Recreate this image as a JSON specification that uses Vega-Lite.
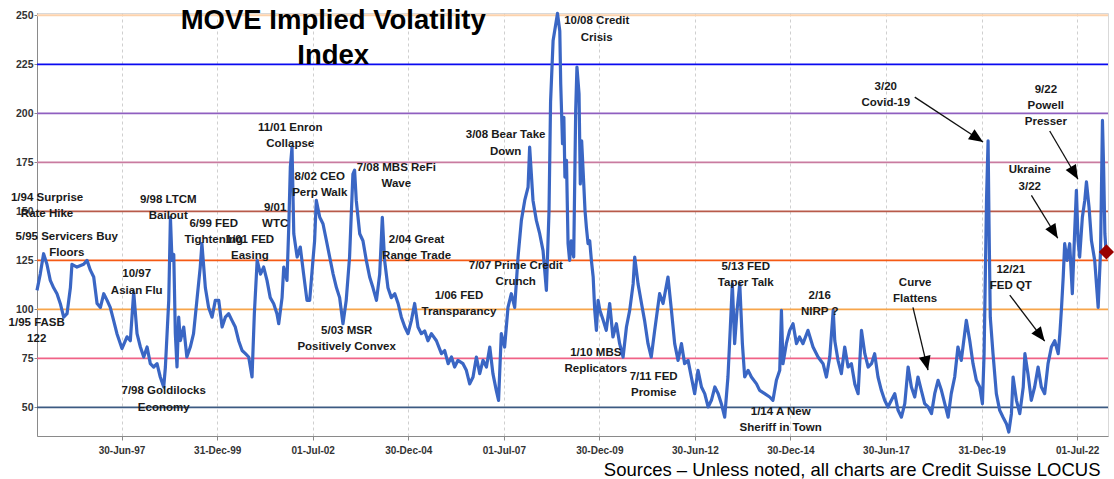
{
  "$schema": "https://vega.github.io/schema/vega-lite/v6.json",
  "width": 1071,
  "height": 423,
  "autosize": {"type": "none"},
  "padding": {"left": 37, "top": 13, "right": 6, "bottom": 43},
  "background": "white",
  "config": {
    "view": {"stroke": "#d9d9d9", "strokeWidth": 1},
    "font": "Liberation Sans",
    "axisX": {"labelFont": "Liberation Sans", "labelFontSize": 10, "labelFontWeight": "bold", "labelColor": "#333333", "domainColor": "#8a8a8a", "tickColor": "#8a8a8a", "tickSize": 4, "labelPadding": 5, "grid": true, "gridColor": "#cfcfcf", "gridDash": [3, 3], "gridWidth": 1},
    "axisY": {"labelFont": "Liberation Sans", "labelFontSize": 10.5, "labelFontWeight": "bold", "labelColor": "#333333", "domainColor": "#8a8a8a", "tickColor": "#8a8a8a", "tickSize": 3, "labelPadding": 1, "grid": false}
  },
  "datasets": {
    "hlines": [{"v": 50}, {"v": 75}, {"v": 100}, {"v": 125}, {"v": 150}, {"v": 175}, {"v": 200}, {"v": 225}, {"v": 250}],
    "move": [
      {"d": "1995-04-14", "v": 109.7}, {"d": "1995-05-15", "v": 118}, {"d": "1995-06-16", "v": 128.4}, {"d": "1995-07-18", "v": 123}, {"d": "1995-08-19", "v": 114.8}, {"d": "1995-09-20", "v": 111}, {"d": "1995-10-22", "v": 108}, {"d": "1995-11-23", "v": 102.9}, {"d": "1995-12-25", "v": 96},
      {"d": "1996-01-26", "v": 97.8}, {"d": "1996-02-27", "v": 111}, {"d": "1996-03-13", "v": 123}, {"d": "1996-04-30", "v": 121.6}, {"d": "1996-07-03", "v": 123}, {"d": "1996-08-04", "v": 125}, {"d": "1996-09-05", "v": 120}, {"d": "1996-10-07", "v": 116.5}, {"d": "1996-11-08", "v": 103}, {"d": "1996-12-10", "v": 101},
      {"d": "1997-01-11", "v": 108}, {"d": "1997-02-12", "v": 104.6}, {"d": "1997-03-14", "v": 101}, {"d": "1997-04-15", "v": 94.4}, {"d": "1997-05-17", "v": 87.6}, {"d": "1997-07-04", "v": 80}, {"d": "1997-08-21", "v": 86}, {"d": "1997-09-22", "v": 84}, {"d": "1997-10-24", "v": 108.8}, {"d": "1997-11-25", "v": 87.6}, {"d": "1997-12-27", "v": 80.8},
      {"d": "1998-01-28", "v": 75.7}, {"d": "1998-03-01", "v": 80.8}, {"d": "1998-04-01", "v": 72.3}, {"d": "1998-05-03", "v": 70.6}, {"d": "1998-06-04", "v": 72.3}, {"d": "1998-07-05", "v": 65.5}, {"d": "1998-08-07", "v": 60.4}, {"d": "1998-08-23", "v": 70.6}, {"d": "1998-09-24", "v": 104.6}, {"d": "1998-10-10", "v": 147}, {"d": "1998-10-25", "v": 125}, {"d": "1998-11-11", "v": 128}, {"d": "1998-11-26", "v": 87.6}, {"d": "1998-12-12", "v": 70.6}, {"d": "1998-12-28", "v": 96},
      {"d": "1999-01-13", "v": 84}, {"d": "1999-02-14", "v": 91}, {"d": "1999-03-16", "v": 75.7}, {"d": "1999-04-18", "v": 80.8}, {"d": "1999-05-19", "v": 87.6}, {"d": "1999-06-20", "v": 104.6}, {"d": "1999-07-22", "v": 121.6}, {"d": "1999-08-07", "v": 133.5}, {"d": "1999-09-09", "v": 111}, {"d": "1999-10-10", "v": 101}, {"d": "1999-11-12", "v": 96}, {"d": "1999-12-13", "v": 104.6},
      {"d": "2000-01-15", "v": 104.6}, {"d": "2000-02-16", "v": 91}, {"d": "2000-03-18", "v": 96}, {"d": "2000-04-19", "v": 97.8}, {"d": "2000-05-20", "v": 94.4}, {"d": "2000-06-21", "v": 91}, {"d": "2000-07-23", "v": 84}, {"d": "2000-08-25", "v": 79}, {"d": "2000-09-26", "v": 77.4}, {"d": "2000-10-27", "v": 75.7}, {"d": "2000-11-28", "v": 65.5}, {"d": "2000-12-20", "v": 97.8},
      {"d": "2001-01-16", "v": 125}, {"d": "2001-02-17", "v": 118}, {"d": "2001-03-19", "v": 121.6}, {"d": "2001-04-20", "v": 114.8}, {"d": "2001-05-21", "v": 106}, {"d": "2001-06-23", "v": 102.9}, {"d": "2001-07-24", "v": 97.8}, {"d": "2001-08-10", "v": 92.7}, {"d": "2001-09-11", "v": 106}, {"d": "2001-09-27", "v": 121.6}, {"d": "2001-10-28", "v": 114.8}, {"d": "2001-11-14", "v": 142}, {"d": "2001-11-29", "v": 172.6}, {"d": "2001-12-15", "v": 182.8},
      {"d": "2002-01-01", "v": 138.6}, {"d": "2002-02-02", "v": 126.7}, {"d": "2002-03-04", "v": 131.8}, {"d": "2002-04-05", "v": 118}, {"d": "2002-05-07", "v": 104.6}, {"d": "2002-06-02", "v": 104.6}, {"d": "2002-07-03", "v": 125}, {"d": "2002-07-19", "v": 135}, {"d": "2002-08-04", "v": 155.6}, {"d": "2002-09-06", "v": 147}, {"d": "2002-10-07", "v": 143.7}, {"d": "2002-11-09", "v": 135}, {"d": "2002-12-10", "v": 126.7},
      {"d": "2003-01-12", "v": 118}, {"d": "2003-02-13", "v": 111}, {"d": "2003-03-15", "v": 106}, {"d": "2003-04-16", "v": 92.7}, {"d": "2003-05-17", "v": 104.6}, {"d": "2003-06-18", "v": 126.7}, {"d": "2003-07-20", "v": 169}, {"d": "2003-08-05", "v": 171}, {"d": "2003-08-21", "v": 155.6}, {"d": "2003-09-23", "v": 138.6}, {"d": "2003-10-24", "v": 135}, {"d": "2003-11-25", "v": 125}, {"d": "2003-12-27", "v": 116.5},
      {"d": "2004-01-28", "v": 111}, {"d": "2004-03-01", "v": 104.6}, {"d": "2004-04-01", "v": 118}, {"d": "2004-04-26", "v": 147}, {"d": "2004-05-18", "v": 125}, {"d": "2004-06-19", "v": 111}, {"d": "2004-07-21", "v": 106}, {"d": "2004-08-23", "v": 108}, {"d": "2004-09-24", "v": 103}, {"d": "2004-10-25", "v": 96}, {"d": "2004-11-27", "v": 91}, {"d": "2004-12-28", "v": 87.6},
      {"d": "2005-01-29", "v": 94.4}, {"d": "2005-03-01", "v": 103}, {"d": "2005-04-02", "v": 91}, {"d": "2005-05-04", "v": 87.6}, {"d": "2005-06-05", "v": 89}, {"d": "2005-07-06", "v": 84}, {"d": "2005-08-08", "v": 87.6}, {"d": "2005-09-25", "v": 84}, {"d": "2005-11-12", "v": 77.4}, {"d": "2005-12-13", "v": 79},
      {"d": "2006-01-15", "v": 72.3}, {"d": "2006-02-16", "v": 75.7}, {"d": "2006-03-18", "v": 70.6}, {"d": "2006-04-19", "v": 74}, {"d": "2006-06-06", "v": 72.3}, {"d": "2006-07-08", "v": 68.9}, {"d": "2006-08-09", "v": 62}, {"d": "2006-09-10", "v": 65.5}, {"d": "2006-10-12", "v": 75.7}, {"d": "2006-11-13", "v": 67.2}, {"d": "2006-12-14", "v": 74},
      {"d": "2007-01-16", "v": 70.6}, {"d": "2007-02-17", "v": 80.8}, {"d": "2007-03-19", "v": 67.2}, {"d": "2007-04-20", "v": 58.7}, {"d": "2007-05-12", "v": 53.6}, {"d": "2007-06-07", "v": 87.6}, {"d": "2007-07-09", "v": 80.8}, {"d": "2007-08-10", "v": 101}, {"d": "2007-09-11", "v": 108}, {"d": "2007-10-13", "v": 101}, {"d": "2007-11-14", "v": 126.7}, {"d": "2007-12-16", "v": 145.4},
      {"d": "2008-01-17", "v": 155.6}, {"d": "2008-02-18", "v": 162.4}, {"d": "2008-03-04", "v": 182.8}, {"d": "2008-04-05", "v": 155.6}, {"d": "2008-05-07", "v": 145.4}, {"d": "2008-06-08", "v": 138.6}, {"d": "2008-07-10", "v": 130}, {"d": "2008-08-11", "v": 109.7}, {"d": "2008-09-05", "v": 150}, {"d": "2008-09-20", "v": 206}, {"d": "2008-10-14", "v": 237}, {"d": "2008-11-25", "v": 251}, {"d": "2008-12-17", "v": 242}, {"d": "2008-12-26", "v": 215},
      {"d": "2009-01-12", "v": 184.5}, {"d": "2009-01-25", "v": 198}, {"d": "2009-02-04", "v": 167.5}, {"d": "2009-02-19", "v": 176}, {"d": "2009-03-06", "v": 133.5}, {"d": "2009-03-21", "v": 125}, {"d": "2009-04-06", "v": 135}, {"d": "2009-04-29", "v": 126.7}, {"d": "2009-05-18", "v": 201.5}, {"d": "2009-05-30", "v": 223.6}, {"d": "2009-06-19", "v": 210}, {"d": "2009-07-01", "v": 164}, {"d": "2009-07-14", "v": 186}, {"d": "2009-08-03", "v": 164}, {"d": "2009-08-15", "v": 150.5}, {"d": "2009-08-28", "v": 142}, {"d": "2009-09-13", "v": 133.5}, {"d": "2009-09-29", "v": 135}, {"d": "2009-10-15", "v": 125}, {"d": "2009-11-01", "v": 116.5}, {"d": "2009-11-16", "v": 99.5}, {"d": "2009-12-02", "v": 89.3}, {"d": "2009-12-18", "v": 104.6},
      {"d": "2010-01-04", "v": 99.5}, {"d": "2010-02-05", "v": 94.4}, {"d": "2010-03-06", "v": 89.3}, {"d": "2010-04-08", "v": 103}, {"d": "2010-05-09", "v": 85.9}, {"d": "2010-06-11", "v": 92.7}, {"d": "2010-07-12", "v": 82.5}, {"d": "2010-08-14", "v": 75.7}, {"d": "2010-09-15", "v": 91}, {"d": "2010-10-16", "v": 99.5}, {"d": "2010-11-18", "v": 113}, {"d": "2010-12-03", "v": 126.7},
      {"d": "2011-01-04", "v": 113}, {"d": "2011-02-06", "v": 103}, {"d": "2011-03-07", "v": 94.4}, {"d": "2011-04-09", "v": 82.5}, {"d": "2011-05-10", "v": 75.7}, {"d": "2011-06-12", "v": 89.3}, {"d": "2011-07-29", "v": 108}, {"d": "2011-08-31", "v": 103}, {"d": "2011-10-17", "v": 116.5}, {"d": "2011-11-19", "v": 99.5}, {"d": "2011-12-20", "v": 82.5},
      {"d": "2012-01-21", "v": 74}, {"d": "2012-02-23", "v": 82.5}, {"d": "2012-03-24", "v": 72.3}, {"d": "2012-04-26", "v": 74}, {"d": "2012-05-27", "v": 65.5}, {"d": "2012-06-28", "v": 57}, {"d": "2012-07-30", "v": 68.9}, {"d": "2012-09-01", "v": 60.4}, {"d": "2012-10-02", "v": 57}, {"d": "2012-11-04", "v": 50.2}, {"d": "2012-12-05", "v": 53.6},
      {"d": "2013-01-07", "v": 60.4}, {"d": "2013-02-08", "v": 57}, {"d": "2013-03-10", "v": 51.9}, {"d": "2013-04-11", "v": 45}, {"d": "2013-05-12", "v": 65.5}, {"d": "2013-06-04", "v": 91}, {"d": "2013-06-23", "v": 113}, {"d": "2013-07-15", "v": 82.5}, {"d": "2013-08-07", "v": 99.5}, {"d": "2013-09-02", "v": 113}, {"d": "2013-09-27", "v": 82.5}, {"d": "2013-10-19", "v": 65.5}, {"d": "2013-11-21", "v": 68.9}, {"d": "2013-12-22", "v": 65.5},
      {"d": "2014-02-09", "v": 62}, {"d": "2014-03-11", "v": 58.7}, {"d": "2014-04-28", "v": 57}, {"d": "2014-06-15", "v": 55.3}, {"d": "2014-07-16", "v": 53.6}, {"d": "2014-08-18", "v": 63.8}, {"d": "2014-09-19", "v": 68.9}, {"d": "2014-10-05", "v": 99.5}, {"d": "2014-10-20", "v": 72.3}, {"d": "2014-11-21", "v": 82.5}, {"d": "2014-12-23", "v": 89.3},
      {"d": "2015-01-24", "v": 92.7}, {"d": "2015-02-26", "v": 82.5}, {"d": "2015-03-27", "v": 85.9}, {"d": "2015-04-29", "v": 82.5}, {"d": "2015-06-16", "v": 89.3}, {"d": "2015-08-03", "v": 80.8}, {"d": "2015-09-20", "v": 75.7}, {"d": "2015-11-07", "v": 72.3}, {"d": "2015-12-09", "v": 65.5},
      {"d": "2016-01-10", "v": 75.7}, {"d": "2016-02-12", "v": 99.5}, {"d": "2016-02-27", "v": 84}, {"d": "2016-03-29", "v": 74}, {"d": "2016-04-30", "v": 67.2}, {"d": "2016-06-01", "v": 80.8}, {"d": "2016-07-03", "v": 70.6}, {"d": "2016-08-04", "v": 72.3}, {"d": "2016-09-05", "v": 62}, {"d": "2016-10-07", "v": 57}, {"d": "2016-11-08", "v": 89.3}, {"d": "2016-12-10", "v": 77.4},
      {"d": "2017-01-11", "v": 70.6}, {"d": "2017-02-12", "v": 72.3}, {"d": "2017-03-14", "v": 77.4}, {"d": "2017-04-15", "v": 65.5}, {"d": "2017-05-17", "v": 58.7}, {"d": "2017-06-18", "v": 53.6}, {"d": "2017-07-19", "v": 50.2}, {"d": "2017-08-21", "v": 53.6}, {"d": "2017-09-22", "v": 57}, {"d": "2017-10-24", "v": 48.5}, {"d": "2017-11-25", "v": 45}, {"d": "2017-12-27", "v": 51.9},
      {"d": "2018-01-28", "v": 70.6}, {"d": "2018-02-28", "v": 60.4}, {"d": "2018-04-01", "v": 55.3}, {"d": "2018-05-02", "v": 65.5}, {"d": "2018-06-03", "v": 58.7}, {"d": "2018-07-05", "v": 51.9}, {"d": "2018-08-07", "v": 50.2}, {"d": "2018-09-08", "v": 46.8}, {"d": "2018-10-09", "v": 57}, {"d": "2018-11-10", "v": 63.8}, {"d": "2018-12-12", "v": 58.7},
      {"d": "2019-01-13", "v": 51.9}, {"d": "2019-02-14", "v": 45}, {"d": "2019-03-16", "v": 57}, {"d": "2019-04-18", "v": 65.5}, {"d": "2019-05-19", "v": 80.8}, {"d": "2019-06-20", "v": 74}, {"d": "2019-07-22", "v": 87.6}, {"d": "2019-08-07", "v": 94.4}, {"d": "2019-09-09", "v": 84}, {"d": "2019-10-10", "v": 72.3}, {"d": "2019-11-11", "v": 63.8}, {"d": "2019-12-13", "v": 60.4},
      {"d": "2020-01-08", "v": 51.9}, {"d": "2020-01-24", "v": 77.4}, {"d": "2020-02-16", "v": 155.6}, {"d": "2020-03-02", "v": 186}, {"d": "2020-03-11", "v": 143.7}, {"d": "2020-03-23", "v": 96}, {"d": "2020-04-18", "v": 77.4}, {"d": "2020-05-20", "v": 57}, {"d": "2020-06-21", "v": 48.5}, {"d": "2020-07-23", "v": 45}, {"d": "2020-08-24", "v": 41.7}, {"d": "2020-09-16", "v": 37.4}, {"d": "2020-10-11", "v": 46.8}, {"d": "2020-10-27", "v": 65.5}, {"d": "2020-11-28", "v": 53.6}, {"d": "2020-12-30", "v": 46.8},
      {"d": "2021-02-01", "v": 60.4}, {"d": "2021-02-17", "v": 77.4}, {"d": "2021-03-18", "v": 67.2}, {"d": "2021-04-19", "v": 53.6}, {"d": "2021-05-21", "v": 60.4}, {"d": "2021-06-23", "v": 70.6}, {"d": "2021-07-24", "v": 60.4}, {"d": "2021-08-25", "v": 57}, {"d": "2021-09-26", "v": 72.3}, {"d": "2021-10-28", "v": 80.8}, {"d": "2021-11-29", "v": 84},
      {"d": "2022-01-01", "v": 77.4}, {"d": "2022-01-17", "v": 87.6}, {"d": "2022-02-02", "v": 101}, {"d": "2022-02-18", "v": 116.5}, {"d": "2022-03-04", "v": 133.5}, {"d": "2022-03-26", "v": 125}, {"d": "2022-04-21", "v": 133.5}, {"d": "2022-05-16", "v": 108}, {"d": "2022-06-08", "v": 140.3}, {"d": "2022-06-24", "v": 160.7}, {"d": "2022-07-10", "v": 135}, {"d": "2022-07-25", "v": 126.7}, {"d": "2022-08-20", "v": 147}, {"d": "2022-09-12", "v": 155.6}, {"d": "2022-09-28", "v": 165}, {"d": "2022-10-23", "v": 152}, {"d": "2022-11-15", "v": 135}, {"d": "2022-12-16", "v": 125},
      {"d": "2023-01-18", "v": 101}, {"d": "2023-02-10", "v": 130}, {"d": "2023-02-28", "v": 196.4}, {"d": "2023-03-11", "v": 172.6}, {"d": "2023-03-23", "v": 138.6}, {"d": "2023-04-06", "v": 128}
    ],
    "last": [{"d": "2023-04-07", "v": 129.3}],
    "arrows": [
      {"n": "covid", "d": "2018-04-01", "v": 208.3, "d2": "2020-01-14", "v2": 185.4},
      {"n": "powell", "d": "2021-10-12", "v": 191.0, "d2": "2022-07-09", "v2": 166.4},
      {"n": "ukraine", "d": "2021-04-20", "v": 158.2, "d2": "2021-12-28", "v2": 136.3},
      {"n": "qt", "d": "2020-09-25", "v": 107.3, "d2": "2021-08-25", "v2": 83.8},
      {"n": "curve", "d": "2018-03-15", "v": 101.0, "d2": "2018-08-06", "v2": 69.0}
    ],
    "notes": [
      {"d": "1995-07-19", "v": 159.8, "t": "1/94 Surprise\nRate Hike"},
      {"d": "1996-01-23", "v": 139.9, "t": "5/95 Servicers Buy\nFloors"},
      {"d": "1995-04-11", "v": 96.2, "t": "1/95 FASB\n122"},
      {"d": "1997-11-22", "v": 120.9, "t": "10/97\nAsian Flu"},
      {"d": "1998-08-07", "v": 61.2, "t": "7/98 Goldilocks\nEconomy"},
      {"d": "1998-09-19", "v": 159.1, "t": "9/98 LTCM\nBailout"},
      {"d": "1999-11-28", "v": 146.7, "t": "6/99 FED\nTightening"},
      {"d": "2000-11-07", "v": 138.7, "t": "1/01 FED\nEasing"},
      {"d": "2001-07-07", "v": 154.8, "t": "9/01\nWTC"},
      {"d": "2001-11-28", "v": 195.6, "t": "11/01 Enron\nCollapse"},
      {"d": "2002-09-06", "v": 170.6, "t": "8/02 CEO\nPerp Walk"},
      {"d": "2004-09-07", "v": 175.2, "t": "7/08 MBS ReFi\nWave"},
      {"d": "2005-03-20", "v": 138.7, "t": "2/04 Great\nRange Trade"},
      {"d": "2003-05-21", "v": 92.0, "t": "5/03 MSR\nPositively Convex"},
      {"d": "2006-04-28", "v": 109.8, "t": "1/06 FED\nTransparancy"},
      {"d": "2007-10-23", "v": 125.1, "t": "7/07 Prime Credit\nCrunch"},
      {"d": "2007-07-18", "v": 191.9, "t": "3/08 Bear Take\nDown"},
      {"d": "2009-12-05", "v": 250.0, "t": "10/08 Credit\nCrisis"},
      {"d": "2009-11-26", "v": 80.9, "t": "1/10 MBS\nReplicators"},
      {"d": "2011-06-02", "v": 68.7, "t": "7/11 FED\nPromise"},
      {"d": "2013-10-29", "v": 124.6, "t": "5/13 FED\nTaper Talk"},
      {"d": "2014-09-28", "v": 50.7, "t": "1/14 A New\nSheriff in Town"},
      {"d": "2015-10-06", "v": 109.8, "t": "2/16\nNIRP ?"},
      {"d": "2018-04-05", "v": 116.6, "t": "Curve\nFlattens"},
      {"d": "2017-06-28", "v": 216.5, "t": "3/20\nCovid-19"},
      {"d": "2021-09-05", "v": 215.2, "t": "9/22\nPowell\nPresser"},
      {"d": "2021-04-04", "v": 174.0, "t": "Ukraine\n3/22"},
      {"d": "2020-10-05", "v": 123.4, "t": "12/21\nFED QT"}
    ],
    "heading": [{"d": "2003-01-13", "v": 243.2, "t": "MOVE Implied Volatility\nIndex"}]
  },
  "layer": [
    {
      "data": {"name": "hlines"},
      "mark": {"type": "rule"},
      "encoding": {
        "y": {"field": "v", "type": "quantitative", "scale": {"domain": [35.4, 251.2], "nice": false, "zero": false}, "axis": {"values": [50, 75, 100, 125, 150, 175, 200, 225, 250], "title": null}},
        "color": {"field": "v", "type": "nominal", "scale": {"domain": [50, 75, 100, 125, 150, 175, 200, 225, 250], "range": ["#3c5a82", "#f06387", "#f7a54b", "#f55a14", "#b85a4a", "#c97ba0", "#8f5fc0", "#0a0af0", "#fcd2ac"]}, "legend": null},
        "strokeWidth": {"field": "v", "type": "nominal", "scale": {"domain": [50, 75, 100, 125, 150, 175, 200, 225, 250], "range": [1.6, 2, 1.6, 1.8, 1.6, 2.6, 1.8, 1.6, 2.2]}, "legend": null}
      }
    },
    {
      "data": {"name": "move"},
      "mark": {"type": "line", "color": "#3a66c4", "strokeWidth": 3.2, "strokeJoin": "round"},
      "encoding": {
        "x": {"field": "d", "type": "temporal",
          "scale": {"type": "utc", "domain": [{"year": 1995, "month": 4, "date": 14, "utc": true}, {"year": 2023, "month": 4, "date": 22, "utc": true}], "nice": false},
          "axis": {
            "values": [
              {"year": 1997, "month": 6, "date": 30, "utc": true},
              {"year": 1999, "month": 12, "date": 31, "utc": true},
              {"year": 2002, "month": 7, "date": 1, "utc": true},
              {"year": 2004, "month": 12, "date": 30, "utc": true},
              {"year": 2007, "month": 7, "date": 1, "utc": true},
              {"year": 2009, "month": 12, "date": 30, "utc": true},
              {"year": 2012, "month": 6, "date": 30, "utc": true},
              {"year": 2014, "month": 12, "date": 30, "utc": true},
              {"year": 2017, "month": 6, "date": 30, "utc": true},
              {"year": 2019, "month": 12, "date": 31, "utc": true},
              {"year": 2022, "month": 7, "date": 1, "utc": true}
            ],
            "format": "%d-%b-%y",
            "title": "Sources – Unless noted, all charts are Credit Suisse LOCUS",
            "titleFont": "Liberation Sans", "titleFontSize": 18.5, "titleFontWeight": "normal", "titleColor": "#000000",
            "titleX": 1063, "titleY": 39, "titleAlign": "right", "titleBaseline": "alphabetic"
          }
        },
        "y": {"field": "v", "type": "quantitative"}
      }
    },
    {
      "data": {"name": "last"},
      "mark": {"type": "point", "shape": "diamond", "filled": true, "color": "#9a0000", "size": 230, "opacity": 1},
      "encoding": {"x": {"field": "d", "type": "temporal"}, "y": {"field": "v", "type": "quantitative"}}
    },
    {
      "data": {"name": "arrows"},
      "mark": {"type": "rule", "color": "#111111", "strokeWidth": 1.3},
      "encoding": {"x": {"field": "d", "type": "temporal"}, "y": {"field": "v", "type": "quantitative"}, "x2": {"field": "d2"}, "y2": {"field": "v2"}}
    },
    {
      "data": {"name": "arrows"},
      "transform": [{"filter": "datum.n === 'covid'"}],
      "mark": {"type": "point", "shape": "M0,0L-0.42,1L0.42,1Z", "filled": true, "color": "#000000", "size": 800, "angle": 123.4, "opacity": 1},
      "encoding": {"x": {"field": "d2", "type": "temporal"}, "y": {"field": "v2", "type": "quantitative"}}
    },
    {
      "data": {"name": "arrows"},
      "transform": [{"filter": "datum.n === 'powell'"}],
      "mark": {"type": "point", "shape": "M0,0L-0.42,1L0.42,1Z", "filled": true, "color": "#000000", "size": 800, "angle": 149.6, "opacity": 1},
      "encoding": {"x": {"field": "d2", "type": "temporal"}, "y": {"field": "v2", "type": "quantitative"}}
    },
    {
      "data": {"name": "arrows"},
      "transform": [{"filter": "datum.n === 'ukraine'"}],
      "mark": {"type": "point", "shape": "M0,0L-0.42,1L0.42,1Z", "filled": true, "color": "#000000", "size": 800, "angle": 148.5, "opacity": 1},
      "encoding": {"x": {"field": "d2", "type": "temporal"}, "y": {"field": "v2", "type": "quantitative"}}
    },
    {
      "data": {"name": "arrows"},
      "transform": [{"filter": "datum.n === 'qt'"}],
      "mark": {"type": "point", "shape": "M0,0L-0.42,1L0.42,1Z", "filled": true, "color": "#000000", "size": 800, "angle": 142.7, "opacity": 1},
      "encoding": {"x": {"field": "d2", "type": "temporal"}, "y": {"field": "v2", "type": "quantitative"}}
    },
    {
      "data": {"name": "arrows"},
      "transform": [{"filter": "datum.n === 'curve'"}],
      "mark": {"type": "point", "shape": "M0,0L-0.42,1L0.42,1Z", "filled": true, "color": "#000000", "size": 800, "angle": 166.5, "opacity": 1},
      "encoding": {"x": {"field": "d2", "type": "temporal"}, "y": {"field": "v2", "type": "quantitative"}}
    },
    {
      "data": {"name": "notes"},
      "mark": {"type": "text", "align": "center", "baseline": "top", "font": "Liberation Sans", "fontSize": 11.5, "fontWeight": "bold", "lineHeight": 16.3, "lineBreak": "\n", "color": "#1a1a1a"},
      "encoding": {"x": {"field": "d", "type": "temporal"}, "y": {"field": "v", "type": "quantitative"}, "text": {"field": "t"}}
    },
    {
      "data": {"name": "heading"},
      "mark": {"type": "text", "align": "center", "baseline": "alphabetic", "font": "Liberation Sans", "fontSize": 27.5, "fontWeight": "bold", "lineHeight": 35, "lineBreak": "\n", "color": "#000000"},
      "encoding": {"x": {"field": "d", "type": "temporal"}, "y": {"field": "v", "type": "quantitative"}, "text": {"field": "t"}}
    }
  ]
}
